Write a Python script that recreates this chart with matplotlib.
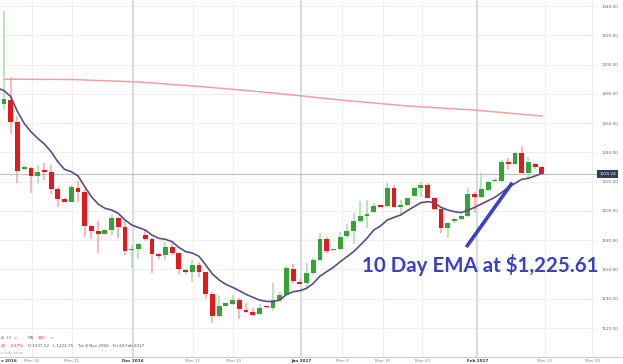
import matplotlib
matplotlib.use("Agg")
import matplotlib.pyplot as plt
import matplotlib.transforms as mtransforms
from matplotlib.lines import Line2D

# Gold daily candles, one per trading session (chart index 0..80)
opens = [1273.3, 1275.8, 1260.5, 1228.4, 1229.5, 1223.9, 1227.5, 1226.6, 1214.7, 1208.1,
         1206.3, 1215.9, 1212.9, 1189.7, 1186.3, 1184.2, 1187.0, 1194.9, 1188.8, 1173.1,
         1174.0, 1183.3, 1180.6, 1170.6, 1169.6, 1175.1, 1171.0, 1159.6, 1158.5, 1163.0,
         1158.5, 1143.2, 1128.4, 1135.0, 1136.4, 1139.1, 1132.3, 1131.2, 1129.3, 1135.0,
         1133.9, 1139.1, 1142.8, 1160.3, 1151.2, 1150.5, 1157.4, 1166.5, 1180.8, 1173.3,
         1173.7, 1182.9, 1186.3, 1193.3, 1196.5, 1199.5, 1203.8, 1203.4, 1215.4, 1202.9,
         1203.8, 1210.4, 1215.9, 1217.7, 1209.0, 1201.1, 1188.1, 1193.3, 1194.2, 1196.5,
         1211.6, 1209.7, 1214.3, 1220.2, 1220.4, 1233.6, 1232.1, 1239.8, 1226.1, 1231.8,
         1230.2]
highs = [1336.8, 1291.7, 1265.1, 1231.4, 1230.2, 1231.4, 1232.5, 1231.4, 1216.1, 1208.6,
         1217.7, 1220.7, 1214.7, 1190.6, 1193.3, 1187.4, 1197.7, 1195.6, 1193.8, 1176.7,
         1178.3, 1187.4, 1181.3, 1171.0, 1179.0, 1177.8, 1171.5, 1160.1, 1166.5, 1165.3,
         1158.5, 1144.8, 1141.9, 1136.9, 1142.5, 1140.3, 1136.9, 1133.9, 1136.4, 1135.3,
         1150.5, 1144.8, 1162.4, 1163.5, 1153.3, 1164.6, 1168.1, 1184.7, 1181.9, 1174.2,
         1185.8, 1190.8, 1198.3, 1206.8, 1207.5, 1205.6, 1204.0, 1219.3, 1217.7, 1207.5,
         1209.0, 1216.6, 1220.0, 1218.8, 1209.7, 1201.5, 1192.0, 1194.9, 1197.2, 1215.4,
         1213.1, 1225.7, 1220.4, 1222.3, 1234.8, 1235.9, 1240.3, 1244.4, 1237.1, 1232.5,
         1230.9]
lows = [1269.0, 1252.3, 1219.3, 1227.7, 1212.0, 1219.3, 1221.1, 1211.6, 1202.9, 1206.1,
        1206.1, 1206.3, 1181.9, 1180.6, 1171.5, 1184.0, 1183.3, 1181.3, 1169.9, 1161.2,
        1167.1, 1179.7, 1157.8, 1166.9, 1166.5, 1169.6, 1156.7, 1156.9, 1151.7, 1155.1,
        1140.3, 1123.2, 1127.3, 1134.6, 1135.7, 1125.9, 1130.0, 1128.4, 1128.9, 1133.9,
        1131.8, 1138.0, 1142.5, 1150.1, 1149.8, 1147.1, 1156.2, 1166.0, 1171.5, 1172.8,
        1173.3, 1181.3, 1177.4, 1191.5, 1188.1, 1198.8, 1202.7, 1202.9, 1202.2, 1197.2,
        1203.6, 1210.2, 1209.7, 1208.6, 1200.6, 1184.7, 1181.3, 1191.5, 1193.8, 1196.1,
        1198.3, 1208.6, 1213.8, 1219.5, 1220.0, 1228.0, 1231.6, 1225.7, 1221.6, 1228.4,
        1224.5]
closes = [1276.5, 1260.5, 1227.5, 1230.2, 1223.9, 1226.8, 1226.8, 1215.2, 1208.4, 1206.3,
          1216.1, 1212.9, 1189.7, 1186.5, 1184.2, 1187.0, 1194.9, 1189.2, 1172.8, 1174.0,
          1177.4, 1180.8, 1170.3, 1169.4, 1175.1, 1171.0, 1160.1, 1158.5, 1163.0, 1158.5,
          1143.0, 1128.4, 1135.3, 1136.9, 1139.1, 1132.8, 1131.2, 1128.9, 1133.9, 1134.3,
          1139.1, 1142.8, 1160.8, 1152.3, 1150.3, 1157.4, 1166.5, 1180.8, 1172.6, 1174.2,
          1182.4, 1186.3, 1193.3, 1196.5, 1197.7, 1203.6, 1202.9, 1215.4, 1202.9, 1203.8,
          1208.6, 1215.4, 1217.7, 1209.0, 1201.1, 1188.6, 1191.5, 1194.2, 1196.5, 1211.6,
          1209.7, 1214.7, 1220.0, 1221.1, 1233.6, 1232.1, 1239.8, 1226.1, 1233.2, 1230.2,
          1225.24]

# 10 day EMA, starting one session before the first candle
ema10 = [1284.0,
         1282.2, 1278.1, 1267.8, 1259.8, 1254.1, 1249.6, 1245.7, 1240.5, 1233.6, 1228.4,
         1226.8, 1223.9, 1216.6, 1209.7, 1204.7, 1201.8, 1200.6, 1198.3, 1193.8, 1190.4,
         1188.6, 1187.0, 1183.5, 1181.3, 1180.6, 1179.0, 1175.1, 1172.2, 1171.2, 1169.0,
         1163.0, 1156.9, 1152.8, 1149.8, 1147.8, 1145.5, 1143.0, 1141.0, 1139.1, 1138.2,
         1138.0, 1139.1, 1142.8, 1144.8, 1145.5, 1147.1, 1150.5, 1155.5, 1158.5, 1161.5,
         1165.3, 1168.7, 1172.2, 1176.7, 1181.4, 1187.0, 1189.7, 1193.8, 1195.6, 1197.2,
         1200.2, 1202.9, 1205.6, 1206.3, 1205.6, 1202.4, 1200.6, 1199.5, 1198.8, 1200.6,
         1202.4, 1204.7, 1207.0, 1209.3, 1212.5, 1216.1, 1218.8, 1221.6, 1222.3, 1223.9,
         1225.6]

# 200 day MA, sampled every 10 sessions
ma200_idx = [0, 10, 20, 30, 40, 50, 60, 70, 80]
ma200 = [1290.0, 1289.8, 1288.1, 1284.7, 1280.6, 1275.8, 1271.7, 1268.9, 1264.8]

# first label is cut by the left edge in the original, only its tail shows
date_labels = ["v 2016", "Mon 14", "Mon 21", "Dec 2016", "Mon 12", "Mon 19", "Jan 2017",
               "Mon 9", "Mon 16", "Mon 23", "Feb 2017", "Mon 13", "Mon 20"]
date_pos = [0.75, 4.1, 10.1, 19.2, 28.1, 34.1, 44.2, 50.3, 56.3, 62.2, 70.4, 80.4, 87.5]
month_labels = ["v 2016", "Dec 2016", "Jan 2017", "Feb 2017"]

price_ticks = list(range(1120, 1341, 20))
last_price = closes[-1]

ema_note = "10 Day EMA at $1,225.61"
ema_arrow_x = [68.75, 75.6]
ema_arrow_y = [1175.3, 1219.3]

GREEN = "#36a336"
RED = "#e21a1c"
GREEN_WICK = "#a9dca9"
RED_WICK = "#f5a5a5"


def main():
    fig = plt.figure(figsize=(6.23, 3.64), dpi=100)
    W, H = 623.0, 364.0
    ax = fig.add_axes([0, 7 / H, 597 / W, 357 / H])

    ax.set_xlim(-0.6, 88.2)
    ax.set_ylim(1100.2, 1344.1)

    # grid
    for p in price_ticks:
        ax.axhline(p, color="#eeeeee", lw=0.8, zorder=0)
    for lab, pos in zip(date_labels, date_pos):
        if lab == "v 2016":
            continue
        if lab in month_labels:
            ax.axvline(pos, color="#dcdcdc", lw=1.4, zorder=0)
        else:
            ax.axvline(pos, color="#eeeeee", lw=0.8, zorder=0)

    # 200 MA
    ax.plot(ma200_idx, ma200, color="#f2a0a0", lw=1.1, zorder=1)

    # last price line
    ax.axhline(last_price, color="#b9c0cc", lw=0.8, zorder=1)

    # candles
    for i in range(len(closes)):
        o, h, l, c = opens[i], highs[i], lows[i], closes[i]
        up = c >= o
        ax.vlines(i, l, h, color=GREEN_WICK if up else RED_WICK, lw=1.1, zorder=2)
        ax.bar(i, max(abs(c - o), 0.9), bottom=min(o, c), width=0.72,
               color=GREEN if up else RED, lw=0, zorder=3)

    # EMA
    ax.plot(range(-1, len(ema10) - 1), ema10, color="#5b4b8c", lw=1.2, zorder=4)

    # annotation
    ax.plot(ema_arrow_x, ema_arrow_y, color="#3a3fd0", lw=2.6,
            solid_capstyle="butt", zorder=5)
    ax.text(70.8, 1163, ema_note, color="#3a40c8", fontsize=14.8,
            family="Lato", weight="bold", ha="center", va="center", zorder=6)

    # axes styling
    for s in ax.spines.values():
        s.set_visible(False)
    ax.yaxis.tick_right()
    ax.set_yticks(price_ticks)
    ax.set_yticklabels(["%.2f" % p for p in price_ticks], fontsize=3, color="#666666")
    ax.tick_params(axis="y", length=0, pad=3)
    ax.set_xticks(date_pos)
    ax.set_xticklabels(date_labels, fontsize=3, color="#888888")
    for t in ax.get_xticklabels():
        if t.get_text() in month_labels:
            t.set_color("#333333")
            t.set_fontweight("bold")
    ax.tick_params(axis="x", length=0, pad=1.5)

    # last price tag
    trans = mtransforms.blended_transform_factory(ax.transAxes, ax.transData)
    ax.text(1.004, last_price, "%.2f" % last_price, transform=trans, fontsize=3,
            color="white", ha="left", va="center", zorder=10, clip_on=False,
            bbox=dict(boxstyle="square,pad=0.5", fc="#2f3d55", ec="none"))

    # bottom rule
    fig.add_artist(Line2D([0, 1], [7 / H, 7 / H], color="#cccccc", lw=0.8,
                          transform=fig.transFigure))

    # info panel (left part is cut by the frame in the original)
    fs = 3
    fig.text(1 / W, 1 - 338 / H, "A  10  \u00d7", fontsize=fs, color="#777777",
             va="center")
    fig.text(28 / W, 1 - 338 / H, "MA", fontsize=fs, color="#777777", va="center")
    fig.text(38 / W, 1 - 338 / H, "200", fontsize=fs, color="#e03030", va="center")
    fig.text(49 / W, 1 - 338 / H, "\u00d7", fontsize=fs, color="#777777", va="center")
    fig.text(1 / W, 1 - 346 / H, "32", fontsize=fs, color="#e03030", va="center")
    fig.text(10 / W, 1 - 346 / H, "-4.47%", fontsize=fs, color="#e03030", va="center")
    fig.text(28 / W, 1 - 346 / H, "H 1337.52", fontsize=fs, color="#555555", va="center")
    fig.text(53 / W, 1 - 346 / H, "L 1122.75", fontsize=fs, color="#555555", va="center")
    fig.text(77 / W, 1 - 346 / H, "Tue 8 Nov 2016 - Fri 24 Feb 2017", fontsize=fs,
             color="#555555", va="center")
    fig.text(1 / W, 1 - 353 / H, "s indicative", fontsize=fs * 0.9,
             color="#aaaaaa", va="center")

    fig.savefig("out.png", dpi=100)


main()
